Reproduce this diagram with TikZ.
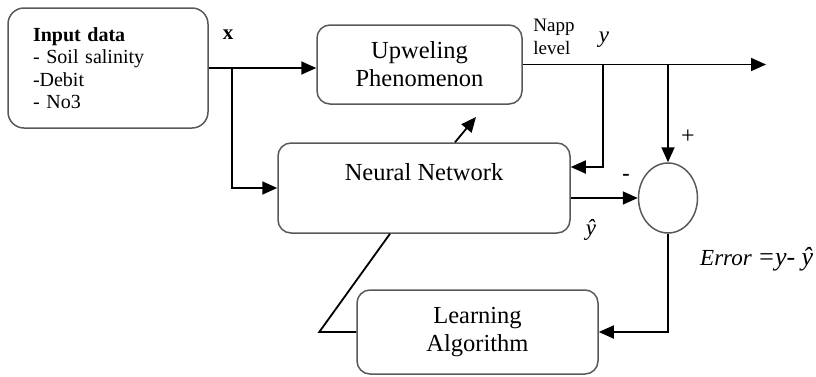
\documentclass[tikz,border=0pt]{standalone}
\usepackage{fontspec}
\setmainfont{Liberation Serif}
\usetikzlibrary{positioning,arrows.meta,calc,shapes.geometric}

\begin{document}
\begin{tikzpicture}[x=1pt,y=-1pt,
  blk/.style={draw=black!65,line width=1.5pt,rounded corners=13pt,align=center,
    font=\fontsize{24.5}{28}\selectfont},
  wire/.style={line width=1.8pt},
  arr/.style={wire,-{Triangle[length=15pt,width=13pt]}},
  lbl/.style={inner sep=0pt,font=\fontsize{20}{22}\selectfont}]
  \useasboundingbox (0,0) rectangle (816,376);

  % blocks
  \node[blk,rounded corners=16pt,minimum width=200pt,minimum height=120pt,
    text width=150pt,inner xsep=25pt,align=left,font=\fontsize{20}{22.5}\selectfont]
    (input) at (108,68) {\textbf{Input data}\\- Soil salinity\\-Debit\\- No3};
  \node[blk,minimum width=205pt,minimum height=79pt] (upw) at (419.5,64.5) {Upweling\\Phenomenon};
  \node[blk,minimum width=292pt,minimum height=90pt,text height=17pt,text depth=33pt]
    (nn) at (424,188) {Neural Network};
  \node[draw=black!65,line width=1.5pt,ellipse,minimum width=59pt,minimum height=70pt]
    (sum) at (668,198) {};
  \node[blk,minimum width=241pt,minimum height=84pt] (learn) at (477.5,332) {Learning\\Algorithm};

  % branch points
  \coordinate (xsplit) at (232,68);
  \coordinate (ysplit) at (603,64.5);
  \coordinate (esplit) at (668,64.5);
  \coordinate (out) at (766,64.5);
  \coordinate (tune) at (476,117);

  % signal paths
  \draw[arr] (input.east) -- (upw.west |- input.east);
  \draw[arr] (xsplit) |- (nn.west);
  \draw[arr] (upw.east) -- (out);
  \draw[arr] (ysplit) |- ([yshift=21pt]nn.east);
  \draw[arr] (esplit) -- (sum.north);
  \draw[arr] (nn.east |- sum.west) -- (sum.west);
  \draw[arr] (sum.south) |- (learn.east);
  \draw[wire] (learn.west) -- ++(-37,0) -- ($(nn.south)+(-34,0)$);
  \draw[arr] ($(nn.north)+(31,0)$) -- (tune);

  % labels
  \node[lbl,font=\fontsize{21}{22}\selectfont\bfseries] (xlab) at (228,35) {x};
  \node[lbl,font=\fontsize{19}{23}\selectfont,align=left] (napp) at (554,37) {Napp\\level};
  \node[lbl,font=\fontsize{23}{24}\selectfont\itshape] (ylab) at (604,40) {y};
  \node[lbl,font=\fontsize{24}{24}\selectfont] (plus) at (688,137) {+};
  \node[lbl,font=\fontsize{22}{24}\selectfont\bfseries] (minus) at (626,177) {-};
  \node[lbl,font=\fontsize{23}{24}\selectfont\itshape] (yhat) at (591,230) {ŷ};
  \node[lbl,font=\fontsize{23}{26}\selectfont\itshape,anchor=base west] (errlab) at (700,265)
    {Error {\fontsize{26}{26}\selectfont =y- ŷ}};
\end{tikzpicture}
\end{document}
